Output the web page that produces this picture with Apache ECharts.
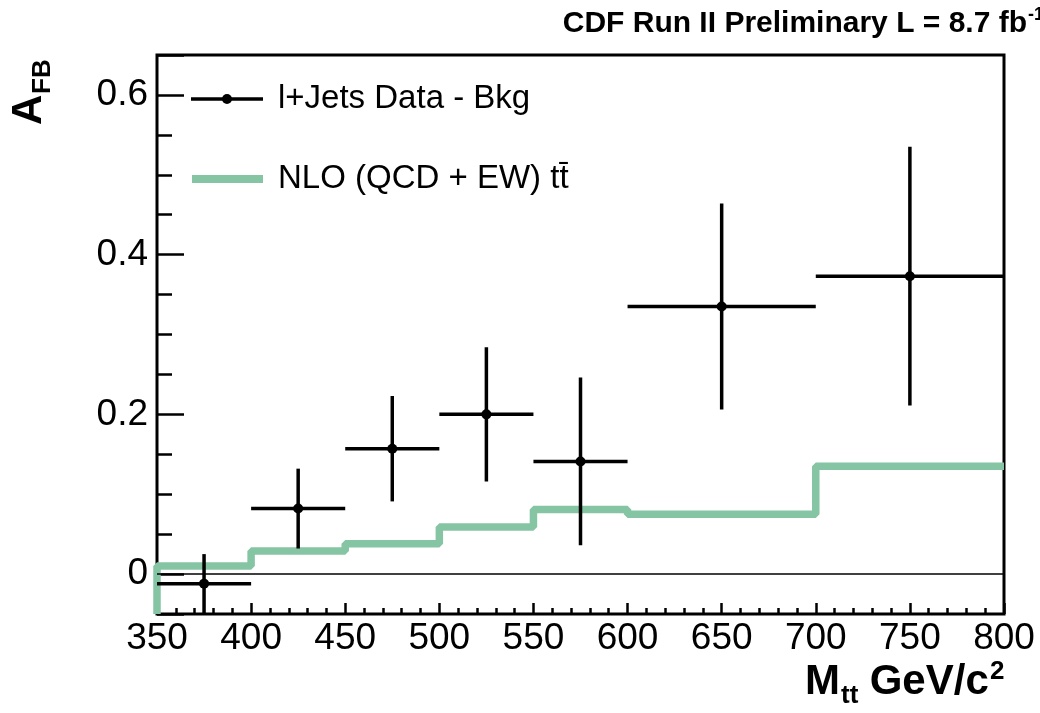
<!DOCTYPE html>
<html>
<head>
<meta charset="utf-8">
<script src="https://cdn.jsdelivr.net/npm/echarts@6/dist/echarts.min.js"></script>
<style>
  html, body { margin: 0; padding: 0; background: #fff; }
  #chart { width: 1040px; height: 713px; }
</style>
</head>
<body>
<div id="chart"></div>
<script>
// l+jets data - bkg, one entry per M_tt bin
const binLow = [350, 400, 450, 500, 550, 600, 700]
const binHigh = [400, 450, 500, 550, 600, 700, 800]
const binCenters = [375, 425, 475, 525, 575, 650, 750]
const afbValues = [-0.012, 0.082, 0.157, 0.200, 0.141, 0.335, 0.373]
const afbErrors = [0.037, 0.050, 0.066, 0.084, 0.105, 0.129, 0.162]

// NLO (QCD + EW) prediction, drawn as a step histogram
const nloEdges = [350, 400, 450, 500, 550, 600, 700, 800]
const nloValues = [0.010, 0.029, 0.038, 0.059, 0.081, 0.075, 0.135]

const yTickLabels = [0, 0.2, 0.4, 0.6]
const yMin = -0.05
const yMax = 0.65

const FONT = 'Liberation Sans, Arial, sans-serif'
const GREEN = '#86c5a4'

const dataPoints = binCenters.map((x, i) => [x, afbValues[i], binLow[i], binHigh[i], afbErrors[i]])

const nloData = [[nloEdges[0], yMin]]
nloValues.forEach((v, i) => nloData.push([nloEdges[i], v]))
nloData.push([nloEdges[nloEdges.length - 1], nloValues[nloValues.length - 1]])

const chart = echarts.init(document.getElementById('chart'))

const tickStyle = { color: '#000', width: 2.5 }

chart.setOption({
  animation: false,
  backgroundColor: '#fff',
  grid: {
    left: 157, right: 36, top: 55, bottom: 99,
    show: true, borderWidth: 3, borderColor: '#000',
    backgroundColor: 'transparent',
    outerBoundsMode: 'none'
  },
  xAxis: {
    type: 'value',
    min: 350, max: 800, interval: 50,
    axisLine: { show: false, onZero: false },
    axisTick: { show: true, inside: true, length: 11, lineStyle: tickStyle },
    minorTick: { show: true, splitNumber: 5, length: 6, lineStyle: tickStyle },
    splitLine: { show: false },
    axisLabel: { fontFamily: FONT, fontSize: 37, color: '#000', margin: 6 }
  },
  yAxis: [
    {
      type: 'value',
      min: yMin, max: yMax, interval: 0.05,
      axisLine: { show: false, onZero: false },
      axisTick: { show: true, inside: true, length: 15, lineStyle: tickStyle },
      splitLine: { show: false },
      axisLabel: {
        fontFamily: FONT, fontSize: 37, color: '#000', margin: 9,
        formatter: v => {
          const t = yTickLabels.find(t => Math.abs(t - v) < 1e-6)
          return t === undefined ? '' : String(t)
        }
      }
    },
    {
      // longer major ticks at 0, 0.2, 0.4, 0.6
      type: 'value',
      min: yMin, max: yMax, splitNumber: 3,
      position: 'left',
      axisLine: { show: false, onZero: false },
      axisTick: { show: true, inside: true, length: 27, lineStyle: tickStyle },
      splitLine: { show: false },
      axisLabel: { show: false }
    }
  ],
  series: [
    {
      name: 'NLO (QCD + EW) tt̄',
      type: 'line',
      step: 'end',
      data: nloData,
      showSymbol: false,
      clip: true,
      lineStyle: { color: GREEN, width: 7.5 },
      markLine: {
        silent: true,
        symbol: ['none', 'none'],
        label: { show: false },
        lineStyle: { color: '#000', width: 1.5, type: 'solid' },
        data: [{ yAxis: 0 }]
      },
      z: 2
    },
    {
      name: 'l+Jets Data - Bkg',
      type: 'custom',
      data: dataPoints,
      clip: true,
      z: 3,
      renderItem(params, api) {
        const x = api.value(0)
        const y = api.value(1)
        const lo = api.value(2)
        const hi = api.value(3)
        const err = api.value(4)
        const c = api.coord([x, y])
        const l = api.coord([lo, y])
        const r = api.coord([hi, y])
        const top = api.coord([x, y + err])
        const bot = api.coord([x, y - err])
        const style = { stroke: '#000', lineWidth: 3.5 }
        return {
          type: 'group',
          children: [
            { type: 'line', shape: { x1: l[0], y1: l[1], x2: r[0], y2: r[1] }, style },
            { type: 'line', shape: { x1: top[0], y1: top[1], x2: bot[0], y2: bot[1] }, style },
            { type: 'circle', shape: { cx: c[0], cy: c[1], r: 5 }, style: { fill: '#000' } }
          ]
        }
      }
    }
  ],
  graphic: [
    // title
    {
      type: 'text', x: 1027, y: 24,
      style: { text: 'CDF Run II Preliminary L = 8.7 fb', fontFamily: FONT, fontSize: 30, fontWeight: 'bold', fill: '#000', align: 'right', verticalAlign: 'middle' }
    },
    {
      type: 'text', x: 1028, y: 15,
      style: { text: '-1', fontFamily: FONT, fontSize: 18, fontWeight: 'bold', fill: '#000', align: 'left', verticalAlign: 'middle' }
    },
    // legend
    { type: 'line', shape: { x1: 191, y1: 99, x2: 263, y2: 99 }, style: { stroke: '#000', lineWidth: 3.5 } },
    { type: 'circle', shape: { cx: 227, cy: 99, r: 5 }, style: { fill: '#000' } },
    {
      type: 'text', x: 278, y: 99,
      style: { text: 'l+Jets Data - Bkg', fontFamily: FONT, fontSize: 33, fill: '#000', verticalAlign: 'middle' }
    },
    { type: 'line', shape: { x1: 192, y1: 179, x2: 263, y2: 179 }, style: { stroke: GREEN, lineWidth: 8 } },
    {
      type: 'text', x: 278, y: 179,
      style: { text: 'NLO (QCD + EW) tt̄', fontFamily: FONT, fontSize: 33, fill: '#000', verticalAlign: 'middle' }
    },
    // y axis title A_FB
    {
      type: 'group', x: 44, y: 125, rotation: Math.PI / 2,
      children: [
        { type: 'text', x: 0, y: -15, style: { text: 'A', fontFamily: FONT, fontSize: 42, fontWeight: 'bold', fill: '#000', verticalAlign: 'middle' } },
        { type: 'text', x: 31, y: -1, style: { text: 'FB', fontFamily: FONT, fontSize: 26, fontWeight: 'bold', fill: '#000', verticalAlign: 'middle' } }
      ]
    },
    // x axis title M_tt GeV/c^2
    { type: 'text', x: 805, y: 682, style: { text: 'M', fontFamily: FONT, fontSize: 42, fontWeight: 'bold', fill: '#000', verticalAlign: 'middle' } },
    { type: 'text', x: 841, y: 696, style: { text: 'tt', fontFamily: FONT, fontSize: 26, fontWeight: 'bold', fill: '#000', verticalAlign: 'middle' } },
    { type: 'text', x: 858, y: 682, style: { text: ' GeV/c', fontFamily: FONT, fontSize: 42, fontWeight: 'bold', fill: '#000', verticalAlign: 'middle' } },
    { type: 'text', x: 990, y: 672, style: { text: '2', fontFamily: FONT, fontSize: 26, fontWeight: 'bold', fill: '#000', verticalAlign: 'middle' } }
  ]
})
</script>
</body>
</html>
